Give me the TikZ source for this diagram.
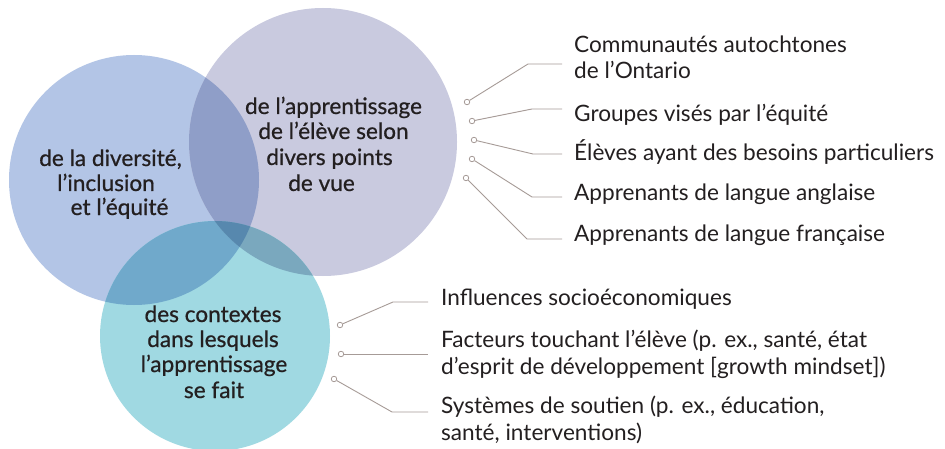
\documentclass[tikz,border=0pt]{standalone}
\usepackage{fontspec}
\setmainfont{Lato}
\newfontfamily\circfont{Lato}[FakeBold=0.7]
\definecolor{cL}{HTML}{B3C5E6}
\definecolor{cT}{HTML}{C9CADF}
\definecolor{cB}{HTML}{A0D9E2}
\definecolor{cLT}{HTML}{8F9EC8}
\definecolor{cLB}{HTML}{70A9CB}
\definecolor{cTB}{HTML}{7AA8BE}
\definecolor{cLTB}{HTML}{5788AE}
\definecolor{conn}{HTML}{A69B97}
\definecolor{ink}{HTML}{231F20}
\tikzset{
  circtext/.style={anchor=base, inner sep=0pt, text=ink, font=\circfont\fontsize{22.6}{25}\selectfont},
  lbl/.style={anchor=base west, inner sep=0pt, text=ink, align=left, font=\fontsize{22.6}{26.5}\selectfont},
  dotnode/.style={circle, draw=conn, fill=white, line width=0.8pt, minimum size=5.5pt, inner sep=0pt},
  connline/.style={draw=conn, line width=0.9pt}
}
\begin{document}
\begin{tikzpicture}[x=1pt, y=-1pt]
\useasboundingbox (0,0) rectangle (945,449);
\fill[white] (0,0) rectangle (945,449);
% circles
\def\Lc{(134,180) circle[radius=125]}
\def\Tc{(323,142) circle[radius=134]}
\def\Bc{(215,336) circle[radius=115]}
\fill[cL] \Lc;
\fill[cT] \Tc;
\fill[cB] \Bc;
\begin{scope}\clip \Lc; \fill[cLT] \Tc; \end{scope}
\begin{scope}\clip \Lc; \fill[cLB] \Bc; \end{scope}
\begin{scope}\clip \Tc; \fill[cTB] \Bc; \end{scope}
\begin{scope}\clip \Lc; \clip \Tc; \fill[cLTB] \Bc; \end{scope}
% circle texts
\node[circtext] (l1) at (110.5,166) {de la diversité,};
\node[circtext] (l2) at (106,191) {l’inclusion};
\node[circtext] (l3) at (119.5,215) {et l’équité};
\node[circtext] (t1) at (333.5,114) {de l’apprentissage};
\node[circtext] (t2) at (333.5,139) {de l’élève selon};
\node[circtext] (t3) at (329.5,165) {divers points};
\node[circtext] (t4) at (321.5,191) {de vue};
\node[circtext] (b1) at (213,322) {des contextes};
\node[circtext] (b2) at (213,347) {dans lesquels};
\node[circtext] (b3) at (214,372) {l’apprentissage};
\node[circtext] (b4) at (214,398) {se fait};
% right labels (base = last line)
\node[lbl] (r1) at (574,79) {Communautés autochtones\\de l’Ontario};
\node[lbl] (r2) at (574,122) {Groupes visés par l’équité};
\node[lbl] (r3) at (574,161) {Élèves ayant des besoins particuliers};
\node[lbl] (r4) at (574,201) {Apprenants de langue anglaise};
\node[lbl] (r5) at (574,241) {Apprenants de langue française};
\node[lbl] (s1) at (441,305) {Influences socioéconomiques};
\node[lbl] (s2) at (441,374) {Facteurs touchant l’élève (p. ex., santé, état\\d’esprit de développement [growth mindset])};
\node[lbl] (s3) at (441,440) {Systèmes de soutien (p. ex., éducation,\\santé, interventions)};
% connectors
\node[dotnode] (d1) at (467,102) {};
\node[dotnode] (d2) at (472,121) {};
\node[dotnode] (d3) at (474,140) {};
\node[dotnode] (d4) at (472,159) {};
\node[dotnode] (d5) at (466,178) {};
\node[dotnode] (d6) at (340,325) {};
\node[dotnode] (d7) at (341,354) {};
\node[dotnode] (d8) at (334,379) {};
\coordinate (e1) at (528,64);  \coordinate (h1) at (562,64);
\coordinate (e2) at (532,109); \coordinate (h2) at (562,109);
\coordinate (e3) at (533,154); \coordinate (h3) at (562,154);
\coordinate (e4) at (532,197); \coordinate (h4) at (562,197);
\coordinate (e5) at (527,239); \coordinate (h5) at (562,239);
\coordinate (e6) at (393,302); \coordinate (h6) at (428,302);
\coordinate (h7) at (428,354);
\coordinate (e8) at (392,412); \coordinate (h8) at (428,412);
\draw[connline] (d1) -- (e1) -- (h1);
\draw[connline] (d2) -- (e2) -- (h2);
\draw[connline] (d3) -- (e3) -- (h3);
\draw[connline] (d4) -- (e4) -- (h4);
\draw[connline] (d5) -- (e5) -- (h5);
\draw[connline] (d6) -- (e6) -- (h6);
\draw[connline] (d7) -- (h7);
\draw[connline] (d8) -- (e8) -- (h8);
\end{tikzpicture}
\end{document}
